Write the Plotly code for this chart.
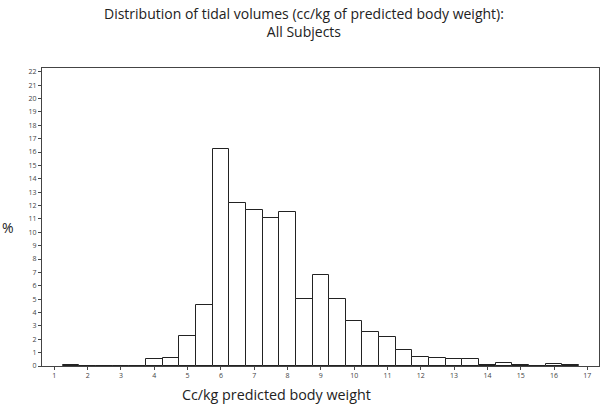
import plotly.graph_objects as go

bin_centers = [1.5, 2, 2.5, 3, 3.5, 4, 4.5, 5, 5.5, 6, 6.5, 7, 7.5, 8, 8.5, 9, 9.5,
               10, 10.5, 11, 11.5, 12, 12.5, 13, 13.5, 14, 14.5, 15, 15.5, 16, 16.5]
percent = [0.07, 0, 0, 0, 0, 0.55, 0.6, 2.24, 4.56, 16.25, 12.18, 11.63, 11.09, 11.49, 4.98, 6.83, 4.98,
           3.34, 2.52, 2.14, 1.17, 0.7, 0.6, 0.55, 0.55, 0.07, 0.22, 0.07, 0, 0.15, 0.07]
x_ticks = list(range(1, 18))
y_ticks = list(range(0, 23))

title_line1 = "Distribution of tidal volumes (cc/kg of predicted body weight):"
title_line2 = "All Subjects"
x_title = "Cc/kg predicted body weight"
y_title = "%"

fig = go.Figure(go.Bar(
    x=bin_centers, y=percent, width=0.5,
    marker=dict(color="white", line=dict(color="#222222", width=1)),
))

fig.update_layout(
    width=600, height=407,
    margin=dict(l=42, r=1, t=68, b=41),
    paper_bgcolor="white", plot_bgcolor="white",
    showlegend=False,
    font=dict(family="Open Sans, sans-serif", color="#222222"),
    bargap=0,
)
fig.update_xaxes(
    range=[0.63, 17.35], tickvals=x_ticks, ticktext=[str(v) for v in x_ticks],
    ticks="outside", ticklen=3, tickcolor="#444444", tickfont=dict(size=7, color="#444444"),
    showline=True, linecolor="#444444", linewidth=1, mirror=True, showgrid=False, zeroline=False,
)
fig.update_yaxes(
    range=[0, 22.28], tickvals=y_ticks, ticktext=[str(v) for v in y_ticks],
    ticks="outside", ticklen=3, tickcolor="#444444", tickfont=dict(size=7, color="#444444"),
    showline=True, linecolor="#444444", linewidth=1, mirror=True, showgrid=False, zeroline=False,
)

fig.add_annotation(text=title_line1 + "<br>" + title_line2, xref="paper", yref="paper",
                   x=(304-42)/557, y=1 + (68-23)/298,
                   showarrow=False, font=dict(size=14, color="#222222"), xanchor="center", yanchor="middle")
fig.add_annotation(text=x_title, xref="paper", yref="paper", x=(276-42)/557, y=-(394-366)/298,
                   showarrow=False, font=dict(size=14.3, color="#222222"), xanchor="center", yanchor="middle")
fig.add_annotation(text=y_title, xref="paper", yref="paper", x=-(42-8)/557, y=(366-227)/298,
                   showarrow=False, font=dict(size=14, color="#222222"), xanchor="center", yanchor="middle")

fig.write_html("out.html", config={"displayModeBar": False},
               post_script="document.body.style.margin='0';document.body.style.padding='0';")
